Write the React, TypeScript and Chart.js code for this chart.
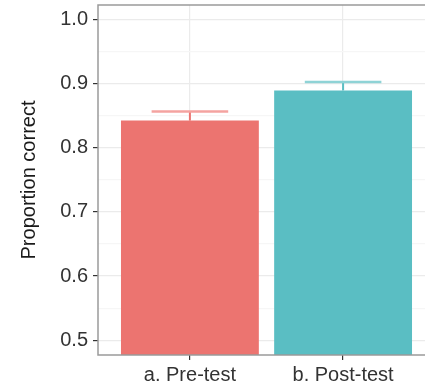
import React, { useEffect, useRef } from "react";
import { Chart, registerables } from "chart.js";

Chart.register(...registerables);

const categories = ["a. Pre-test", "b. Post-test"];
const proportions = [0.842, 0.889];
const upperErrors = [0.856, 0.902];
const barColors = ["#EC7470", "#5ABEC3"];
const whiskerColors = ["#F4A3A0", "#8FD3D6"];
const yTicks = [0.5, 0.55, 0.6, 0.65, 0.7, 0.75, 0.8, 0.85, 0.9, 0.95, 1.0];

const FONT = "'Liberation Sans', Arial, sans-serif";

const frameAndErrors = {
  id: "frameAndErrors",
  afterDatasetsDraw(chart: any) {
    const ctx = chart.ctx;
    const xs = chart.scales.x;
    const ys = chart.scales.y;
    const unit = xs.getPixelForValue(1) - xs.getPixelForValue(0);
    ctx.save();
    proportions.forEach((v, i) => {
      const cx = xs.getPixelForValue(i);
      const yb = ys.getPixelForValue(v);
      const yt = ys.getPixelForValue(upperErrors[i]);
      ctx.strokeStyle = barColors[i];
      ctx.lineWidth = 2;
      ctx.beginPath();
      ctx.moveTo(cx, yb);
      ctx.lineTo(cx, yt);
      ctx.stroke();
      ctx.strokeStyle = whiskerColors[i];
      ctx.lineWidth = 2.5;
      ctx.beginPath();
      ctx.moveTo(cx - unit * 0.25, yt);
      ctx.lineTo(cx + unit * 0.25, yt);
      ctx.stroke();
    });
    ctx.restore();
  },
  afterDraw(chart: any) {
    const { left, top, right, bottom } = chart.chartArea;
    const ctx = chart.ctx;
    ctx.save();
    ctx.strokeStyle = "#9a9a9a";
    ctx.lineWidth = 1.5;
    ctx.strokeRect(left, top, right - left, bottom - top);
    ctx.restore();
  },
};

export default function App() {
  const ref = useRef<HTMLCanvasElement>(null);
  useEffect(() => {
    if (!ref.current) return;
    const chart = new Chart(ref.current, {
      type: "bar",
      data: {
        datasets: [
          {
            data: proportions.map((y, i) => ({ x: i, y })),
            backgroundColor: barColors,
            borderColor: barColors,
            borderWidth: 0,
            barPercentage: 0.9,
            categoryPercentage: 1,
          },
        ],
      },
      plugins: [frameAndErrors],
      options: {
        responsive: false,
        animation: false,
        devicePixelRatio: 1,
        layout: { padding: { top: 5, left: 0, right: 1, bottom: 0 } },
        plugins: { legend: { display: false }, tooltip: { enabled: false } },
        scales: {
          x: {
            type: "linear",
            min: -0.6,
            max: 1.6,
            offset: false,
            afterBuildTicks: (s: any) => {
              s.ticks = categories.map((_, i) => ({ value: i }));
            },
            afterFit: (s: any) => {
              s.height = 30;
              s.paddingLeft = 0;
              s.paddingRight = 0;
            },
            ticks: {
              callback: (v: any) => categories[Math.round(v)],
              font: { family: FONT, size: 20 },
              color: "#333333",
              padding: 3,
              maxRotation: 0,
              autoSkip: false,
            },
            grid: {
              offset: false,
              color: "#ebebeb",
              lineWidth: 1.2,
              tickColor: "#333333",
              tickLength: 5,
              drawOnChartArea: true,
            },
            border: { display: false },
          },
          y: {
            min: 0.477,
            max: 1.022,
            afterBuildTicks: (s: any) => {
              s.ticks = yTicks.map((v) => ({ value: v }));
            },
            afterFit: (s: any) => {
              s.width = 98;
              s.paddingTop = 0;
              s.paddingBottom = 0;
            },
            ticks: {
              callback: (v: any, i: number) => (i % 2 === 0 ? Number(v).toFixed(1) : ""),
              font: { family: FONT, size: 20 },
              color: "#333333",
              padding: 5,
              autoSkip: false,
            },
            grid: {
              color: (c: any) => (c.index % 2 === 0 ? "#ebebeb" : "#f6f6f6"),
              lineWidth: 1.2,
              tickColor: (c: any) => (c.index % 2 === 0 ? "#333333" : "rgba(0,0,0,0)"),
              tickLength: 5,
            },
            border: { display: false },
            title: {
              display: true,
              text: "Proportion correct",
              font: { family: FONT, size: 20 },
              color: "#1a1a1a",
              padding: { top: 17, bottom: 0 },
            },
          },
        },
      },
    });
    return () => chart.destroy();
  }, []);
  return (
    <div style={{ position: "absolute", left: 0, top: 0, width: 436, height: 385, overflow: "hidden" }}>
      <canvas ref={ref} width={436} height={385} style={{ display: "block" }} />
    </div>
  );
}
